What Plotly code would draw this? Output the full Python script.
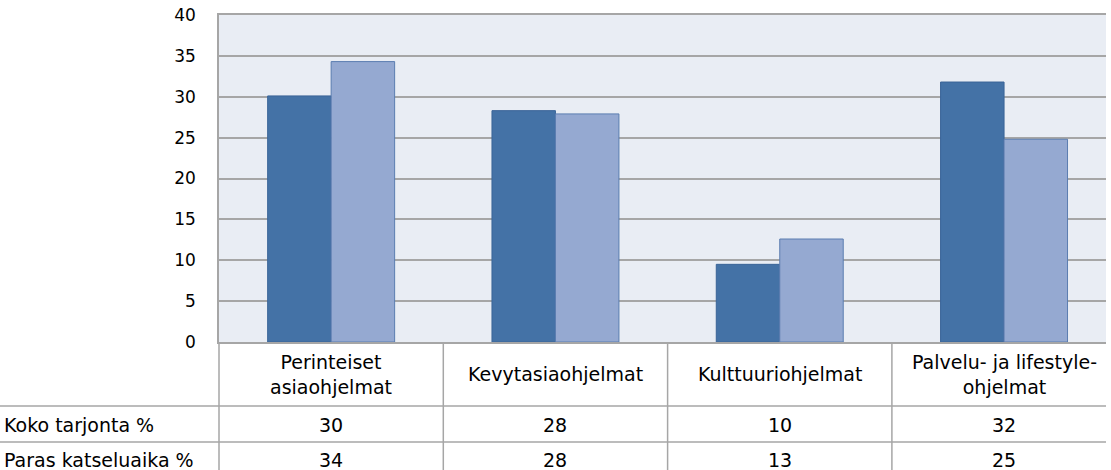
import plotly.graph_objects as go

categories = ["Perinteiset<br>asiaohjelmat", "Kevytasiaohjelmat", "Kulttuuriohjelmat", "Palvelu- ja lifestyle-<br>ohjelmat"]
series_names = ["Koko tarjonta %", "Paras katseluaika %"]
koko_tarjonta = [30.1, 28.3, 9.5, 31.8]
paras_katseluaika = [34.3, 27.9, 12.6, 24.8]
koko_labels = ["30", "28", "10", "32"]
paras_labels = ["34", "28", "13", "25"]
y_ticks = [0, 5, 10, 15, 20, 25, 30, 35, 40]

W, H = 1111, 470
L, R, T, B = 219, 5, 15, 128
plot_w = W - L - R
plot_h = H - T - B
bottom_px = H - B

def py(p):
    return (bottom_px - p) / plot_h

def px(p):
    return (p - L) / plot_w

xs = list(range(len(categories)))
line_col = "#A6A6A6"
font_fam = "DejaVu Sans"
tfs = 19

fig = go.Figure()
fig.add_trace(go.Bar(x=xs, y=koko_tarjonta, name=series_names[0],
                     marker=dict(color="#4472A6", line=dict(color="#3A6498", width=1))))
fig.add_trace(go.Bar(x=xs, y=paras_katseluaika, name=series_names[1],
                     marker=dict(color="#95A9D1", line=dict(color="#5B7DB0", width=1))))

shapes = []
for yp in (406, 442):
    shapes.append(dict(type="line", xref="paper", yref="paper", x0=px(0), x1=1, y0=py(yp), y1=py(yp),
                       line=dict(color=line_col, width=1.5)))
shapes.append(dict(type="line", xref="paper", yref="paper", x0=0, x1=0, y0=0, y1=py(480),
                   line=dict(color=line_col, width=1.5)))
for i in range(len(categories) - 1):
    shapes.append(dict(type="line", xref="x", yref="paper", x0=i + 0.5, x1=i + 0.5, y0=0, y1=py(480),
                       line=dict(color=line_col, width=1.5)))

annotations = []
for i, c in enumerate(categories):
    annotations.append(dict(x=i, xref="x", y=py(374), yref="paper", text=c, showarrow=False,
                            xanchor="center", yanchor="middle", align="center",
                            font=dict(family=font_fam, size=tfs, color="#000000")))
    annotations.append(dict(x=i, xref="x", y=py(425), yref="paper", text=koko_labels[i], showarrow=False,
                            xanchor="center", yanchor="middle",
                            font=dict(family=font_fam, size=tfs, color="#000000")))
    annotations.append(dict(x=i, xref="x", y=py(460), yref="paper", text=paras_labels[i], showarrow=False,
                            xanchor="center", yanchor="middle",
                            font=dict(family=font_fam, size=tfs, color="#000000")))
annotations.append(dict(x=px(2), xref="paper", y=py(425), yref="paper", text=series_names[0], showarrow=False,
                        xanchor="left", yanchor="middle", font=dict(family=font_fam, size=tfs, color="#000000")))
annotations.append(dict(x=px(2), xref="paper", y=py(460), yref="paper", text=series_names[1], showarrow=False,
                        xanchor="left", yanchor="middle", font=dict(family=font_fam, size=tfs, color="#000000")))

fig.update_layout(
    width=W, height=H,
    margin=dict(l=L, r=R, t=T, b=B, pad=0),
    paper_bgcolor="#FFFFFF",
    plot_bgcolor="#E9EDF4",
    barmode="group",
    bargap=0.434,
    bargroupgap=0,
    showlegend=False,
    shapes=shapes,
    annotations=annotations,
    xaxis=dict(range=[-0.5, -0.5 + plot_w / 224.3], showticklabels=False, showgrid=False,
               zeroline=False, showline=True, mirror=True, linecolor=line_col, linewidth=1.5, ticks=""),
    yaxis=dict(range=[0, 40], tickvals=y_ticks, showgrid=True, gridcolor=line_col, gridwidth=1.5,
               zeroline=False, showline=True, linecolor=line_col, linewidth=1.5, ticks="",
               ticklabelstandoff=18,
               tickfont=dict(family=font_fam, size=17, color="#000000")),
)

fig.write_html("out.html", config={"displayModeBar": False},
               post_script="document.body.style.margin='0';document.body.style.overflow='hidden';")
